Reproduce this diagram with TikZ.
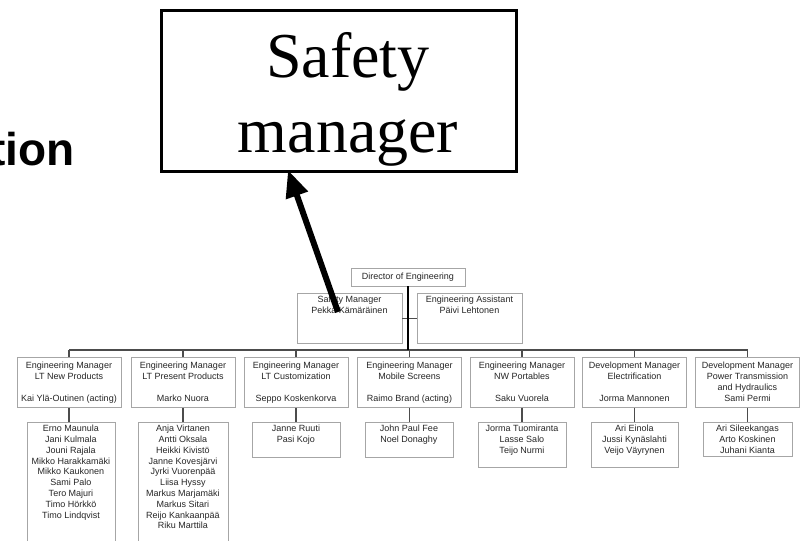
\documentclass[tikz,border=0pt]{standalone}
\usepackage{fontspec}
\setmainfont{Liberation Sans}
\newfontfamily\bigserif{Liberation Serif}
\usetikzlibrary{arrows.meta}
\tikzset{
  box/.style={draw=black!35, line width=0.8pt, rectangle, inner sep=0pt},
  txt/.style={inner sep=0pt, align=center, text=black!85, font=\fontsize{9}{10.8}\selectfont},
  conn/.style={draw=black!70, line width=1.3pt},
  mgr/.style={box, minimum width=104pt, minimum height=50pt, anchor=north},
  team/.style={box, anchor=north},
  bigbox/.style={draw=black, line width=2.5pt, rectangle, inner sep=0pt, anchor=north west},
  bigarrow/.style={draw=black, line width=6pt, -{Triangle[length=27pt,width=22pt]}}
}
\begin{document}
\begin{tikzpicture}[x=1pt,y=-1pt]
\useasboundingbox (0,0) rectangle (804,541);
\fill[white] (0,0) rectangle (804,541);
\clip (0,0) rectangle (804,541);

% cut-off title text
\node[anchor=base east, inner sep=0pt, font=\fontsize{46}{52}\selectfont\bfseries] (title) at (75,165) {tion};

% big Safety manager box
\node[bigbox, minimum width=355pt, minimum height=161pt] (big) at (160,9) {};
\node[anchor=north, inner sep=0pt, align=center, font=\bigserif\fontsize{64}{75}\selectfont] (bigtxt) at (348,32) {Safety\\manager};

% top of chart
\node[box, minimum width=114pt, minimum height=18pt] (dir) at (408,277) {};
\node[txt] (dirt) at (dir.center) {Director of Engineering};

\node[box, minimum width=105pt, minimum height=50pt, anchor=north] (sm) at (349.5,293) {};
\node[txt, anchor=north] (smt) at ([yshift=-3pt]sm.north) {Safety Manager\\Pekka Kämäräinen};
\node[box, minimum width=105pt, minimum height=50pt, anchor=north] (ea) at (469.5,293) {};
\node[txt, anchor=north] (eat) at ([yshift=-3pt]ea.north) {Engineering Assistant\\Päivi Lehtonen};

\coordinate (hb) at (408,350);

% managers
\node[mgr] (m1) at (69,357) {};
\node[mgr] (m2) at (183,357) {};
\node[mgr] (m3) at (296,357) {};
\node[mgr] (m4) at (409.5,357) {};
\node[mgr] (m5) at (522,357) {};
\node[mgr] (m6) at (634.5,357) {};
\node[mgr] (m7) at (747.5,357) {};
\node[txt, anchor=north] (m1t) at ([yshift=-5pt]m1.north) {Engineering Manager\\LT New Products\\~\\Kai Ylä-Outinen (acting)};
\node[txt, anchor=north] (m2t) at ([yshift=-5pt]m2.north) {Engineering Manager\\LT Present Products\\~\\Marko Nuora};
\node[txt, anchor=north] (m3t) at ([yshift=-5pt]m3.north) {Engineering Manager\\LT Customization\\~\\Seppo Koskenkorva};
\node[txt, anchor=north] (m4t) at ([yshift=-5pt]m4.north) {Engineering Manager\\Mobile Screens\\~\\Raimo Brand (acting)};
\node[txt, anchor=north] (m5t) at ([yshift=-5pt]m5.north) {Engineering Manager\\NW Portables\\~\\Saku Vuorela};
\node[txt, anchor=north] (m6t) at ([yshift=-5pt]m6.north) {Development Manager\\Electrification\\~\\Jorma Mannonen};
\node[txt, anchor=north] (m7t) at ([yshift=-5pt]m7.north) {Development Manager\\Power Transmission\\and Hydraulics\\Sami Permi};

% teams
\node[team, minimum width=88pt, minimum height=124pt] (t1) at (71,422) {};
\node[team, minimum width=90pt, minimum height=124pt] (t2) at (183,422) {};
\node[team, minimum width=88pt, minimum height=35pt] (t3) at (296,422) {};
\node[team, minimum width=88pt, minimum height=35pt] (t4) at (409,422) {};
\node[team, minimum width=88pt, minimum height=45pt] (t5) at (522,422) {};
\node[team, minimum width=87pt, minimum height=45pt] (t6) at (634.5,422) {};
\node[team, minimum width=89pt, minimum height=34pt] (t7) at (747.5,422) {};
\node[txt, anchor=north] (t1t) at ([yshift=-3pt]t1.north) {Erno Maunula\\Jani Kulmala\\Jouni Rajala\\Mikko Harakkamäki\\Mikko Kaukonen\\Sami Palo\\Tero Majuri\\Timo Hörkkö\\Timo Lindqvist};
\node[txt, anchor=north] (t2t) at ([yshift=-3pt]t2.north) {Anja Virtanen\\Antti Oksala\\Heikki Kivistö\\Janne Kovesjärvi\\Jyrki Vuorenpää\\Liisa Hyssy\\Markus Marjamäki\\Markus Sitari\\Reijo Kankaanpää\\Riku Marttila};
\node[txt, anchor=north] (t3t) at ([yshift=-3pt]t3.north) {Janne Ruuti\\Pasi Kojo};
\node[txt, anchor=north] (t4t) at ([yshift=-3pt]t4.north) {John Paul Fee\\Noel Donaghy};
\node[txt, anchor=north] (t5t) at ([yshift=-3pt]t5.north) {Jorma Tuomiranta\\Lasse Salo\\Teijo Nurmi};
\node[txt, anchor=north] (t6t) at ([yshift=-3pt]t6.north) {Ari Einola\\Jussi Kynäslahti\\Veijo Väyrynen};
\node[txt, anchor=north] (t7t) at ([yshift=-3pt]t7.north) {Ari Sileekangas\\Arto Koskinen\\Juhani Kianta};

% connectors
\draw[conn] (sm.east) -- (ea.west);
\draw[conn] (m1.north |- hb) -- (m7.north |- hb);
\foreach \i in {1,...,7} {
  \draw[conn] (m\i.north |- hb) -- (m\i.north);
  \draw[conn] (m\i.south) -- (m\i.south |- t\i.north);
}
\draw[draw=black, line width=1.3pt] (dir.south) -- (hb);

% big arrow
\coordinate (astart) at (338,312);
\coordinate (aend) at (288,170);
\draw[bigarrow] (astart) -- (aend);
\end{tikzpicture}
\end{document}
